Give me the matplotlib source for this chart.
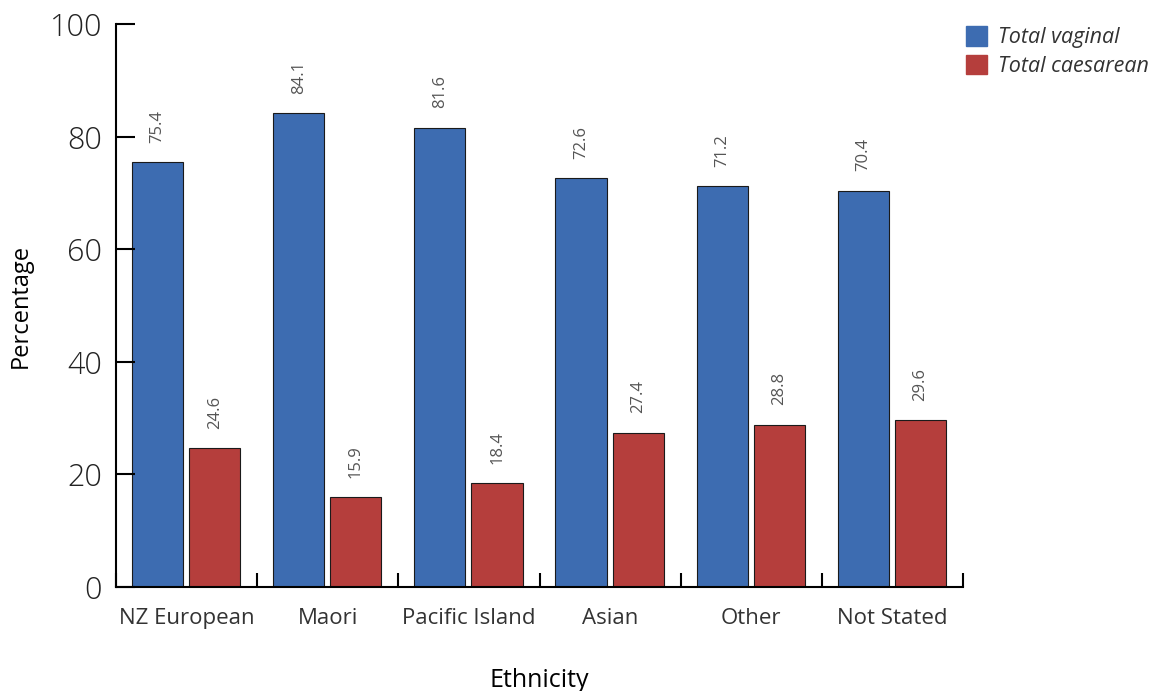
import numpy as np
import matplotlib.pyplot as plt
from matplotlib.patches import Patch

# Birth mode by ethnicity (%)
ethnicity = ["NZ European", "Maori", "Pacific Island", "Asian", "Other", "Not Stated"]
vaginal = [75.4, 84.1, 81.6, 72.6, 71.2, 70.4]
caesarean = [24.6, 15.9, 18.4, 27.4, 28.8, 29.6]

blue = "#3d6cb1"
red = "#b53e3c"

plt.rcParams["font.family"] = ["Open Sans", "DejaVu Sans"]

fig = plt.figure(figsize=(11.5, 6.91), dpi=100)
ax = fig.add_axes([0.1009, 0.1505, 0.7365, 0.8148])

x = np.arange(len(ethnicity))
w = 0.362
ax.bar(x - 0.387, vaginal, width=w, align="edge", color=blue, edgecolor="#1a1a1a", linewidth=0.8)
ax.bar(x + 0.018, caesarean, width=w, align="edge", color=red, edgecolor="#1a1a1a", linewidth=0.8)

for xi, v, c in zip(x, vaginal, caesarean):
    ax.annotate(f"{v}", (xi - 0.387 + w / 2, v), xytext=(0, 14), textcoords="offset points",
                rotation=90, ha="center", va="bottom", fontsize=12, color="#555555")
    ax.annotate(f"{c}", (xi + 0.018 + w / 2, c), xytext=(0, 14), textcoords="offset points",
                rotation=90, ha="center", va="bottom", fontsize=12, color="#555555")

ax.set_xlim(-0.5, len(ethnicity) - 0.5)
ax.set_ylim(0, 100)
ax.spines["top"].set_visible(False)
ax.spines["right"].set_visible(False)
ax.spines["left"].set_linewidth(1.5)
ax.spines["bottom"].set_linewidth(1.5)

# group boundaries as ticks, category names between them
ax.set_xticks(np.arange(len(ethnicity) + 1) - 0.5)
ax.set_xticklabels([])
ax.set_xticks(x, minor=True)
ax.set_xticklabels(ethnicity, minor=True, fontsize=16, color="#333333")
ax.tick_params(axis="x", which="major", direction="in", length=10, width=1.5)
ax.tick_params(axis="x", which="minor", length=0, pad=15)

ax.set_yticks([0, 20, 40, 60, 80, 100])
ax.set_yticklabels(["0", "20", "40", "60", "80", "100"], fontsize=22, color="#222222",
                   fontweight="light")
ax.tick_params(axis="y", direction="in", length=14, width=1.5, pad=10)

ax.set_ylabel("Percentage", fontsize=17, labelpad=12)
ax.set_xlabel("Ethnicity", fontsize=18, labelpad=28)

handles = [Patch(facecolor=blue, edgecolor=blue), Patch(facecolor=red, edgecolor=red)]
leg = fig.legend(handles, ["Total vaginal", "Total caesarean"], loc="upper left",
                 bbox_to_anchor=(0.823, 0.99), frameon=False, handlelength=1.0,
                 handleheight=1.0, handletextpad=0.5, labelspacing=0.3,
                 prop={"size": 15.5, "style": "italic"})
for t in leg.get_texts():
    t.set_color("#333333")

fig.savefig("out.png", dpi=100)
